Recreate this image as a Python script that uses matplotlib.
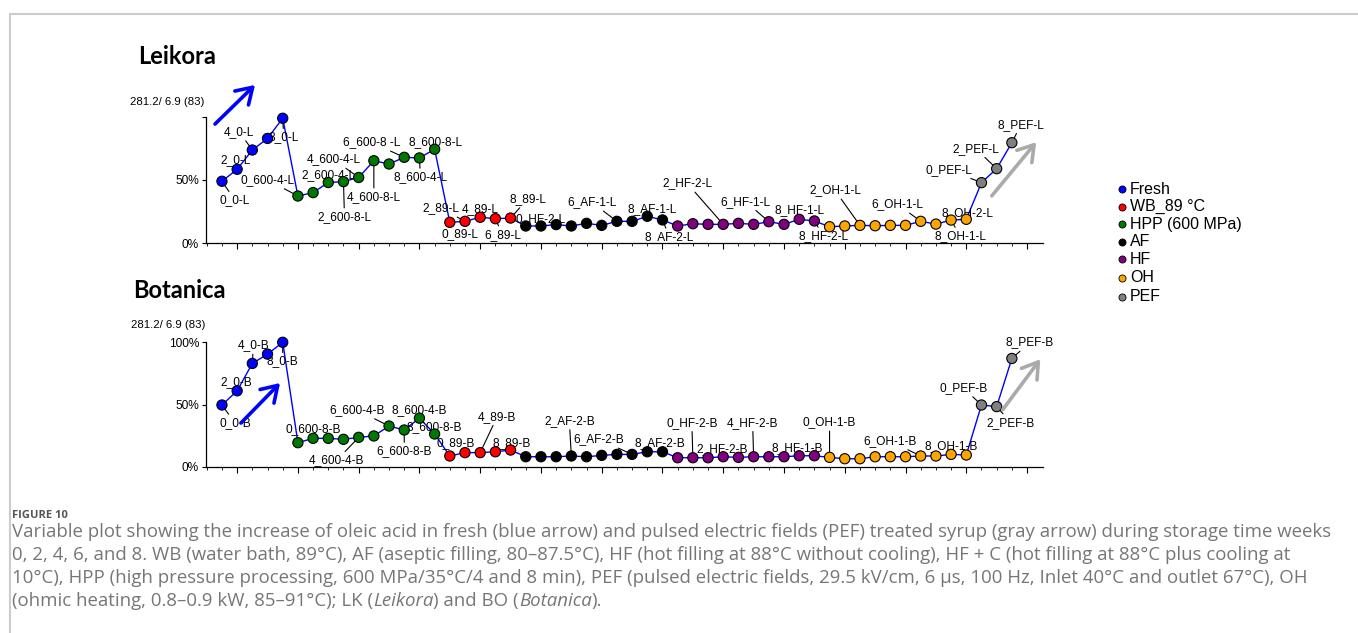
import matplotlib.pyplot as plt
import numpy as np

# valores en % del maximo (281.2/ 6.9 (83))
grupos = ["Fresh", "HPP (600 MPa)", "WB_89 °C", "AF", "HF", "OH", "PEF"]
leyenda = ["Fresh", "WB_89 °C", "HPP (600 MPa)", "AF", "HF", "OH", "PEF"]

fresh_L = [49, 58.5, 73.8, 83, 99]
hpp_L = [37.3, 40, 48, 48.7, 52, 65.3, 62.7, 68, 67.5, 74.4]
wb_L = [16.4, 17.2, 20.4, 19.3, 19.8]
af_L = [13.5, 13.5, 14.6, 13.5, 15.6, 14, 17.2, 17.2, 21.2, 18.3]
hf_L = [13.5, 15.3, 14.8, 14.8, 15.6, 14.8, 16.9, 14.8, 18.8, 17.5]
oh_L = [12.9, 13.5, 14, 13.7, 14, 14, 17.2, 15, 18.2, 18.8]
pef_L = [47.9, 59, 79.6]

fresh_B = [49.6, 61, 83, 90.5, 100]
hpp_B = [19.3, 22.8, 22.8, 22, 23.6, 24.7, 32.7, 29.5, 39, 26.3]
wb_B = [8.6, 11.3, 11.3, 12, 13.4]
af_B = [8, 8, 8, 8.6, 8, 9.1, 9.9, 9.9, 12, 12]
hf_B = [7.2, 7.2, 7.2, 8, 7.5, 8, 8, 8, 8.8, 8.8]
oh_B = [7.5, 6.4, 6.4, 8, 8, 8, 8.6, 8.6, 9.9, 9.4]
pef_B = [49.6, 48.3, 87]

# etiquetas de puntos (indice, texto)
etiq_L = [(0, "0_0-L"), (1, "2_0-L"), (2, "4_0-L"), (4, "8_0-L"),
          (5, "0_600-4-L"), (7, "2_600-4-L"), (8, "2_600-8-L"), (9, "4_600-4-L"),
          (10, "4_600-8-L"), (12, "6_600-8 -L"), (13, "8_600-4-L"), (14, "8_600-8-L"),
          (15, "0_89-L"), (16, "2_89-L"), (17, "4_89-L"), (18, "6_89-L"), (19, "8_89-L"),
          (20, "0_HF-2-L"), (26, "6_AF-1-L"), (28, "8_AF-1-L"), (29, "8_AF-2-L"),
          (33, "2_HF-2-L"), (36, "6_HF-1-L"), (38, "8_HF-1-L"), (39, "8_HF-2-L"),
          (42, "2_OH-1-L"), (46, "6_OH-1-L"), (48, "8_OH-1-L"), (49, "8_OH-2-L"),
          (50, "0_PEF-L"), (51, "2_PEF-L"), (52, "8_PEF-L")]
etiq_B = [(0, "0_0-B"), (1, "2_0-B"), (2, "4_0-B"), (4, "8_0-B"),
          (6, "0_600-8-B"), (9, "4_600-4-B"), (11, "6_600-4-B"), (12, "6_600-8-B"),
          (13, "8_600-4-B"), (14, "8_600-8-B"),
          (15, "0_89-B"), (17, "4_89-B"), (19, "8_89-B"),
          (23, "2_AF-2-B"), (27, "6_AF-2-B"), (29, "8_AF-2-B"),
          (31, "0_HF-2-B"), (33, "2_HF-2-B"), (35, "4_HF-2-B"), (38, "8_HF-1-B"),
          (40, "0_OH-1-B"), (46, "6_OH-1-B"), (48, "8_OH-1-B"),
          (50, "0_PEF-B"), (51, "2_PEF-B"), (52, "8_PEF-B")]

# posicion de cada etiqueta respecto al punto (pixeles, y hacia abajo)
off_L = [(13, 19), (-2, -9), (-13, -18), (1, 19), (-30, -16), (0, -7), (1, 35), (-25, -18),
         (0, 36), (-33, -15), (1, 19), (1, -7), (10, 12), (-24, -13), (0, -8), (7, 16), (17, -19),
         (15, -7), (-25, -19), (5, -7), (7, 17), (-36, -41), (-23, -20), (0, -9), (9, 15),
         (-25, -35), (-23, -17), (9, 16), (1, -6), (-33, -13), (-21, -20), (9, -18)]
off_B = [(13, 18), (-1, -9), (1, -18), (0, 19), (0, -9), (-22, 23), (-32, -16), (0, 21),
         (0, -8), (0, -7), (6, -13), (17, -36), (1, -7), (-2, -35), (-33, -15), (-3, -9),
         (-1, -35), (-1, -8), (-1, -34), (-2, -8), (0, -35), (-31, -15), (0, -8), (-18, -17),
         (14, 16), (18, -16)]

colores = {"Fresh": "#0000ff", "WB_89 °C": "#ff0000", "HPP (600 MPa)": "#007800",
           "AF": "#000000", "HF": "#800080", "OH": "#ffa500", "PEF": "#808080"}

plt.rcParams['font.family'] = ['Liberation Sans', 'DejaVu Sans']

W, H = 1358, 633
fig = plt.figure(figsize=(W / 100, H / 100), dpi=100)
axL = fig.add_axes([206 / W, 1 - 243 / H, 837 / W, 126 / H])
axB = fig.add_axes([206 / W, 1 - 466.7 / H, 837 / W, 124.4 / H])


def panel(ax, series, etiquetas, offsets, ylabels):
    vals = np.concatenate(series)
    cols = []
    for g, s in zip(grupos, series):
        cols += [colores[g]] * len(s)
    x = np.arange(len(vals))
    ax.plot(x, vals, color="#0000ff", lw=1, zorder=2, clip_on=False)
    ax.scatter(x, vals, s=54, c=cols, edgecolors="k", linewidths=0.8, zorder=4, clip_on=False)
    for (i, txt), (dx, dy) in zip(etiquetas, offsets):
        kw = {}
        if np.hypot(dx, dy) > 14.5 and txt != "0_HF-2-L":
            kw["arrowprops"] = dict(arrowstyle="-", color="k", lw=0.8, shrinkA=0, shrinkB=3.8)
        ax.annotate(txt, xy=(i, vals[i]), xytext=(dx, -dy), textcoords="offset pixels",
                    ha="center", va="center", fontsize=8.6, zorder=3, annotation_clip=False, **kw)
    ax.set_xlim(-1.05, 54.05)
    ax.set_ylim(0, 100)
    for s in ["top", "right"]:
        ax.spines[s].set_visible(False)
    for s in ["left", "bottom"]:
        ax.spines[s].set_linewidth(0.9)
    ax.set_yticks([0, 50, 100])
    ax.set_yticklabels(ylabels)
    ax.set_xticks(np.arange(1, 54, 4))
    ax.set_xticks(np.arange(-1, 54, 1), minor=True)
    ax.set_xticklabels([])
    ax.tick_params(axis="y", length=3, width=0.8, labelsize=8.6, pad=2)
    ax.tick_params(axis="x", which="major", length=4, width=0.8)
    ax.tick_params(axis="x", which="minor", length=2, width=0.6)
    ax.patch.set_alpha(0)


panel(axL, [fresh_L, hpp_L, wb_L, af_L, hf_L, oh_L, pef_L], etiq_L, off_L, ["0%", "50%", ""])
panel(axB, [fresh_B, hpp_B, wb_B, af_B, hf_B, oh_B, pef_B], etiq_B, off_B, ["0%", "50%", "100%"])

# capa superior en pixeles para marco, flechas, titulos y leyenda
top = fig.add_axes([0, 0, 1, 1], zorder=5)
top.set_xlim(0, W)
top.set_ylim(H, 0)
top.axis("off")
top.patch.set_alpha(0)

top.plot([10, 10], [H, 14], color="#cccccc", lw=1.5, clip_on=False)
top.plot([10, W], [14, 14], color="#cccccc", lw=1.5, clip_on=False)

flecha = "->,head_length=0.55,head_width=0.35"
top.annotate("", xy=(257, 83), xytext=(213, 126),
             arrowprops=dict(arrowstyle=flecha, mutation_scale=20, color="#0000ff", lw=2.6))
top.annotate("", xy=(282, 381), xytext=(239, 425),
             arrowprops=dict(arrowstyle=flecha, mutation_scale=20, color="#0000ff", lw=2.6))
top.annotate("", xy=(1038, 140), xytext=(990, 198),
             arrowprops=dict(arrowstyle=flecha, mutation_scale=20, color="#aaaaaa", lw=2.6))
top.annotate("", xy=(1042, 357), xytext=(1001, 412),
             arrowprops=dict(arrowstyle=flecha, mutation_scale=20, color="#aaaaaa", lw=2.6))

top.text(138, 57, "Leikora", fontsize=17, fontweight="bold", family="Lato", va="center")
top.text(133, 291, "Botanica", fontsize=17, fontweight="bold", family="Lato", va="center")
top.text(130, 102, "281.2/ 6.9 (83)", fontsize=8.2, va="center")
top.text(131, 325, "281.2/ 6.9 (83)", fontsize=8.2, va="center")

ley_y = [189, 206.7, 224, 241.7, 259, 278, 296.7]
for nombre, yy in zip(leyenda, ley_y):
    top.scatter([1122], [yy], s=26, color=colores[nombre], edgecolors="k", linewidths=0.6, clip_on=False)
    top.text(1130, yy, nombre, fontsize=11.5, va="center")

# pie de figura
pie = ["Open Sans", "DejaVu Sans"]
top.text(12, 516, "FIGURE 10", fontsize=8, fontweight="bold", color="#555555",
         family=pie, va="center")
lineas = [
    "Variable plot showing the increase of oleic acid in fresh (blue arrow) and pulsed electric fields (PEF) treated syrup (gray arrow) during storage time weeks",
    "0, 2, 4, 6, and 8. WB (water bath, 89°C), AF (aseptic filling, 80–87.5°C), HF (hot filling at 88°C without cooling), HF + C (hot filling at 88°C plus cooling at",
    "10°C), HPP (high pressure processing, 600 MPa/35°C/4 and 8 min), PEF (pulsed electric fields, 29.5 kV/cm, 6 µs, 100 Hz, Inlet 40°C and outlet 67°C), OH",
]
gris = "#767676"
renderer = fig.canvas.get_renderer()
t0 = top.text(12, 532, lineas[0], fontsize=12, color=gris, family=pie, va="center")
fs = 12 * 1316 / t0.get_window_extent(renderer).width
t0.set_fontsize(fs)
for k, linea in enumerate(lineas[1:]):
    top.text(12, 555 + 23 * k, linea, fontsize=fs, color=gris, family=pie, va="center")

partes = [("(ohmic heating, 0.8–0.9 kW, 85–91°C); LK (", "normal"), ("Leikora", "italic"),
          (") and BO (", "normal"), ("Botanica", "italic"), (").", "normal")]
xx = 12
for txt, estilo in partes:
    t = top.text(xx, 601, txt, fontsize=fs, color=gris, family=pie, style=estilo, va="center")
    xx += t.get_window_extent(renderer).width

fig.savefig("out.png", dpi=100)
